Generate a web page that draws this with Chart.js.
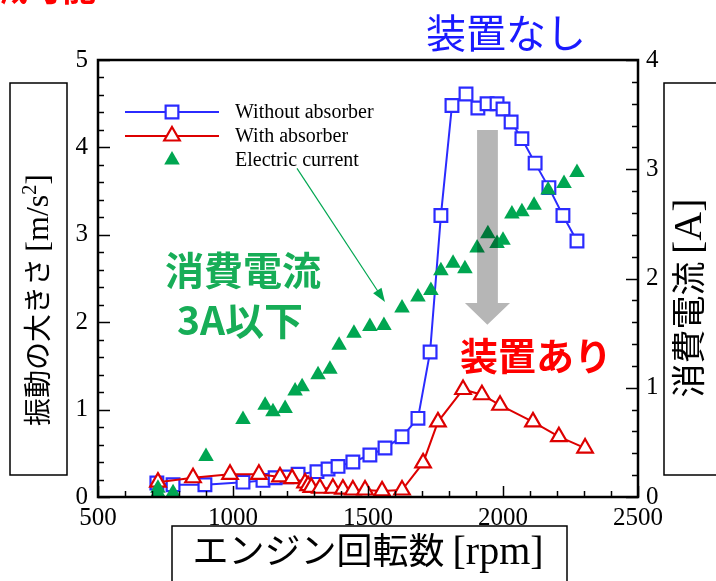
<!DOCTYPE html>
<html lang="ja">
<head>
    <meta charset="UTF-8">
    <title>振動の大きさと消費電流</title>
    <script src="https://cdn.jsdelivr.net/npm/chart.js"></script>
    <style>
        body { margin: 0; background: #fff; }
        #wrap { width: 716px; height: 581px; }
    </style>
</head>
<body>
<div id="wrap"><canvas id="grafico" width="716" height="581"></canvas></div>
<script>
    // Dati: giri motore [rpm] e valori
    const rpmWithout = [718, 778, 896, 1037, 1111, 1156, 1200, 1241, 1311, 1352, 1389, 1444, 1507, 1563, 1626, 1685,
                        1730, 1770, 1811, 1863, 1907, 1941, 1978, 2000, 2030, 2070, 2119, 2170, 2222, 2274];
    const accWithout = [0.16, 0.14, 0.14, 0.17, 0.19, 0.22, 0.23, 0.26, 0.29, 0.32, 0.35, 0.40, 0.48, 0.56, 0.69, 0.90,
                        1.66, 3.22, 4.48, 4.61, 4.45, 4.50, 4.50, 4.44, 4.29, 4.10, 3.82, 3.54, 3.22, 2.93];

    const rpmWith = [722, 852, 989, 1096, 1174, 1219, 1267, 1278, 1290, 1322, 1370, 1407, 1444, 1489, 1552, 1626,
                     1704, 1759, 1852, 1922, 1989, 2111, 2207, 2304];
    const accWith = [0.17, 0.22, 0.26, 0.26, 0.23, 0.21, 0.16, 0.13, 0.11, 0.10, 0.10, 0.09, 0.08, 0.08, 0.07, 0.08,
                     0.39, 0.86, 1.23, 1.17, 1.05, 0.86, 0.69, 0.56];

    const rpmCurrent = [722, 722, 778, 900, 1037, 1119, 1148, 1193, 1230, 1256, 1315, 1359, 1393, 1448, 1507, 1559,
                        1626, 1685, 1733, 1770, 1815, 1859, 1904, 1944, 1978, 2000, 2033, 2070, 2115, 2167, 2226, 2274];
    const current = [0.08, 0.04, 0.04, 0.37, 0.71, 0.84, 0.78, 0.81, 0.97, 1.01, 1.12, 1.17, 1.39, 1.50, 1.56, 1.57,
                     1.73, 1.83, 1.89, 2.07, 2.14, 2.09, 2.28, 2.41, 2.32, 2.35, 2.59, 2.61, 2.67, 2.81, 2.87, 2.97];

    const xTicks = [500, 1000, 1500, 2000, 2500];
    const legendLabels = ['Without absorber', 'With absorber', 'Electric current'];

    const BLU = '#2b2bff';
    const ROSSO = '#dd0000';
    const VERDE = '#00a651';
    const serif = '"Liberation Serif", "Times New Roman", serif';
    const jp = '"Noto Sans CJK JP", sans-serif';

    function punti(xs, ys) {
        return xs.map((x, i) => ({ x: x, y: ys[i] }));
    }

    // Testo ruotato (dal basso verso l'alto) fatto di pezzi con font diversi
    function testoVerticale(ctx, cx, cy, pezzi) {
        ctx.save();
        ctx.translate(cx, cy);
        ctx.rotate(-Math.PI / 2);
        ctx.textBaseline = 'alphabetic';
        ctx.textAlign = 'left';
        let tot = 0;
        pezzi.forEach(p => { ctx.font = p.font; tot += ctx.measureText(p.t).width; });
        let u = -tot / 2;
        pezzi.forEach(p => {
            ctx.font = p.font;
            ctx.fillText(p.t, u, p.dy || 10);
            u += ctx.measureText(p.t).width;
        });
        ctx.restore();
    }

    function testoOrizzontale(ctx, cx, cy, pezzi) {
        ctx.save();
        ctx.textBaseline = 'alphabetic';
        ctx.textAlign = 'left';
        let tot = 0;
        pezzi.forEach(p => { ctx.font = p.font; tot += ctx.measureText(p.t).width; });
        let u = cx - tot / 2;
        pezzi.forEach(p => {
            ctx.font = p.font;
            ctx.fillText(p.t, u, cy + (p.dy || 11));
            u += ctx.measureText(p.t).width;
        });
        ctx.restore();
    }

    // Freccia grigia (in multiply sopra i dati verdi) e testi
    const annotazioni = {
        id: 'annotazioni',
        afterDatasetsDraw(chart) {
            const ctx = chart.ctx;
            const x = chart.scales.x, y = chart.scales.y;

            // freccia grigia
            ctx.save();
            ctx.globalCompositeOperation = 'multiply';
            ctx.fillStyle = '#b6b6b6';
            ctx.beginPath();
            ctx.moveTo(x.getPixelForValue(1904), y.getPixelForValue(4.2));
            ctx.lineTo(x.getPixelForValue(1981), y.getPixelForValue(4.2));
            ctx.lineTo(x.getPixelForValue(1981), y.getPixelForValue(2.22));
            ctx.lineTo(x.getPixelForValue(2026), y.getPixelForValue(2.22));
            ctx.lineTo(x.getPixelForValue(1942), y.getPixelForValue(1.97));
            ctx.lineTo(x.getPixelForValue(1859), y.getPixelForValue(2.22));
            ctx.lineTo(x.getPixelForValue(1904), y.getPixelForValue(2.22));
            ctx.closePath();
            ctx.fill();
            ctx.restore();

            // freccia verde sottile
            const ax = x.getPixelForValue(1237), ay = y.getPixelForValue(3.76);
            const bx = x.getPixelForValue(1563), by = y.getPixelForValue(2.23);
            const ang = Math.atan2(by - ay, bx - ax);
            ctx.save();
            ctx.strokeStyle = VERDE;
            ctx.fillStyle = VERDE;
            ctx.lineWidth = 1.2;
            ctx.beginPath();
            ctx.moveTo(ax, ay);
            ctx.lineTo(bx - 10 * Math.cos(ang), by - 10 * Math.sin(ang));
            ctx.stroke();
            ctx.beginPath();
            ctx.moveTo(bx, by);
            ctx.lineTo(bx - 14 * Math.cos(ang) + 5 * Math.sin(ang), by - 14 * Math.sin(ang) - 5 * Math.cos(ang));
            ctx.lineTo(bx - 14 * Math.cos(ang) - 5 * Math.sin(ang), by - 14 * Math.sin(ang) + 5 * Math.cos(ang));
            ctx.closePath();
            ctx.fill();
            ctx.restore();

            // testi
            ctx.save();
            ctx.textAlign = 'center';
            ctx.textBaseline = 'middle';
            ctx.fillStyle = '#1a1aff';
            ctx.font = '40px ' + jp;
            ctx.fillText('装置なし', 506, 33);
            ctx.fillStyle = '#ff0000';
            ctx.font = 'bold 38px ' + jp;
            ctx.fillText('装置あり', 536, 356);
            ctx.fillStyle = '#17ad57';
            ctx.font = 'bold 39px ' + jp;
            ctx.fillText('消費電流', 243, 270);
            ctx.fillText('3A以下', 240, 320);
            ctx.fillStyle = '#ff0000';
            ctx.textAlign = 'left';
            ctx.font = 'bold 34px ' + jp;
            ctx.fillText('低減可能', -40, -12);
            ctx.restore();
        }
    };

    // Cornice, tacche verso l'interno, legenda e titoli degli assi
    const cornice = {
        id: 'cornice',
        afterDraw(chart) {
            const ctx = chart.ctx;
            const a = chart.chartArea;
            const x = chart.scales.x, y = chart.scales.y, y2 = chart.scales.y2;

            ctx.save();
            ctx.strokeStyle = '#000';
            ctx.lineWidth = 1.5;
            // tacche asse x (in basso)
            for (let v = 500; v <= 2500; v += 100) {
                const px = Math.round(x.getPixelForValue(v)) + 0.5;
                const len = v % 500 === 0 ? 11 : 6;
                ctx.beginPath(); ctx.moveTo(px, a.bottom); ctx.lineTo(px, a.bottom - len); ctx.stroke();
            }
            // tacche asse sinistro
            for (let i = 0; i <= 25; i++) {
                const py = Math.round(y.getPixelForValue(i * 0.2)) + 0.5;
                const len = i % 5 === 0 ? 12 : 6;
                ctx.beginPath(); ctx.moveTo(a.left, py); ctx.lineTo(a.left + len, py); ctx.stroke();
            }
            // tacche asse destro
            for (let i = 0; i <= 20; i++) {
                const py = Math.round(y2.getPixelForValue(i * 0.2)) + 0.5;
                const len = i % 5 === 0 ? 12 : 6;
                ctx.beginPath(); ctx.moveTo(a.right, py); ctx.lineTo(a.right - len, py); ctx.stroke();
            }
            ctx.lineWidth = 2.5;
            ctx.strokeRect(a.left, a.top, a.right - a.left, a.bottom - a.top);
            ctx.restore();

            // legenda
            const ds = chart.data.datasets;
            const righe = [112, 136, 160];
            ctx.save();
            ds.forEach((d, i) => {
                const yy = righe[i];
                if (d.showLine !== false) {
                    ctx.strokeStyle = d.borderColor;
                    ctx.lineWidth = d.borderWidth;
                    ctx.beginPath(); ctx.moveTo(125, yy); ctx.lineTo(219, yy); ctx.stroke();
                }
                ctx.strokeStyle = d.pointBorderColor;
                ctx.fillStyle = d.pointBackgroundColor;
                ctx.lineWidth = d.pointBorderWidth;
                Chart.helpers.drawPoint(ctx, {
                    pointStyle: d.pointStyle,
                    radius: d.pointRadius,
                    rotation: 0,
                    borderWidth: d.pointBorderWidth
                }, 172, yy);
                ctx.fillStyle = '#000';
                ctx.font = '20px ' + serif;
                ctx.textAlign = 'left';
                ctx.textBaseline = 'middle';
                ctx.fillText(legendLabels[i], 235, yy + 1);
            });
            ctx.restore();

            // titoli degli assi in riquadri
            ctx.save();
            ctx.strokeStyle = '#000';
            ctx.lineWidth = 1.5;
            ctx.strokeRect(10, 83, 57, 392);
            ctx.strokeRect(664, 83, 60, 392);
            ctx.strokeRect(172, 526, 395, 70);
            ctx.fillStyle = '#000';
            testoVerticale(ctx, 38, 300, [
                { t: '振動の大きさ ', font: '28px ' + jp },
                { t: '[m/s', font: '32px ' + serif },
                { t: '2', font: '20px ' + serif, dy: -2 },
                { t: ']', font: '32px ' + serif }
            ]);
            testoVerticale(ctx, 691, 298, [
                { t: '消費電流 ', font: '34px ' + jp },
                { t: '[A]', font: '40px ' + serif }
            ]);
            testoOrizzontale(ctx, 368, 553, [
                { t: 'エンジン回転数 ', font: '36px ' + jp },
                { t: '[rpm]', font: '40px ' + serif }
            ]);
            ctx.restore();
        }
    };

    const ctx = document.getElementById('grafico').getContext('2d');
    const chart = new Chart(ctx, {
        type: 'scatter',
        data: {
            datasets: [
                {
                    label: legendLabels[0],
                    data: punti(rpmWithout, accWithout),
                    yAxisID: 'y',
                    showLine: true,
                    borderColor: BLU,
                    borderWidth: 2,
                    pointStyle: 'rect',
                    pointRadius: 9,
                    pointBorderWidth: 2.2,
                    pointBorderColor: BLU,
                    pointBackgroundColor: '#fff',
                    order: 2
                },
                {
                    label: legendLabels[1],
                    data: punti(rpmWith, accWith),
                    yAxisID: 'y',
                    showLine: true,
                    borderColor: ROSSO,
                    borderWidth: 2,
                    pointStyle: 'triangle',
                    pointRadius: 9,
                    pointBorderWidth: 2.2,
                    pointBorderColor: ROSSO,
                    pointBackgroundColor: '#fff',
                    order: 1
                },
                {
                    label: legendLabels[2],
                    data: punti(rpmCurrent, current),
                    yAxisID: 'y2',
                    showLine: false,
                    borderColor: VERDE,
                    borderWidth: 0,
                    pointStyle: 'triangle',
                    pointRadius: 9,
                    pointBorderWidth: 0,
                    pointBorderColor: VERDE,
                    pointBackgroundColor: VERDE,
                    order: 0
                }
            ]
        },
        options: {
            responsive: false,
            animation: false,
            layout: { padding: { top: 60, left: 0, right: 0, bottom: 0 } },
            plugins: {
                legend: { display: false },
                tooltip: { enabled: false }
            },
            scales: {
                x: {
                    type: 'linear',
                    min: 500,
                    max: 2500,
                    afterBuildTicks: s => { s.ticks = xTicks.map(v => ({ value: v })); },
                    grid: { display: false, drawTicks: false },
                    border: { display: false },
                    ticks: {
                        font: { family: serif, size: 25 }, color: '#000', padding: 6, maxRotation: 0,
                        callback: v => String(v)
                    },
                    afterFit: s => { s.height = 84; }
                },
                y: {
                    position: 'left',
                    min: 0,
                    max: 5,
                    ticks: { stepSize: 1, font: { family: serif, size: 25 }, color: '#000', padding: 10 },
                    grid: { display: false, drawTicks: false },
                    border: { display: false },
                    afterFit: s => { s.width = 98; }
                },
                y2: {
                    position: 'right',
                    min: 0,
                    max: 4,
                    ticks: { stepSize: 1, font: { family: serif, size: 25 }, color: '#000', padding: 8 },
                    grid: { display: false, drawTicks: false },
                    border: { display: false },
                    afterFit: s => { s.width = 78; }
                }
            }
        },
        plugins: [annotazioni, cornice]
    });
</script>
</body>
</html>
